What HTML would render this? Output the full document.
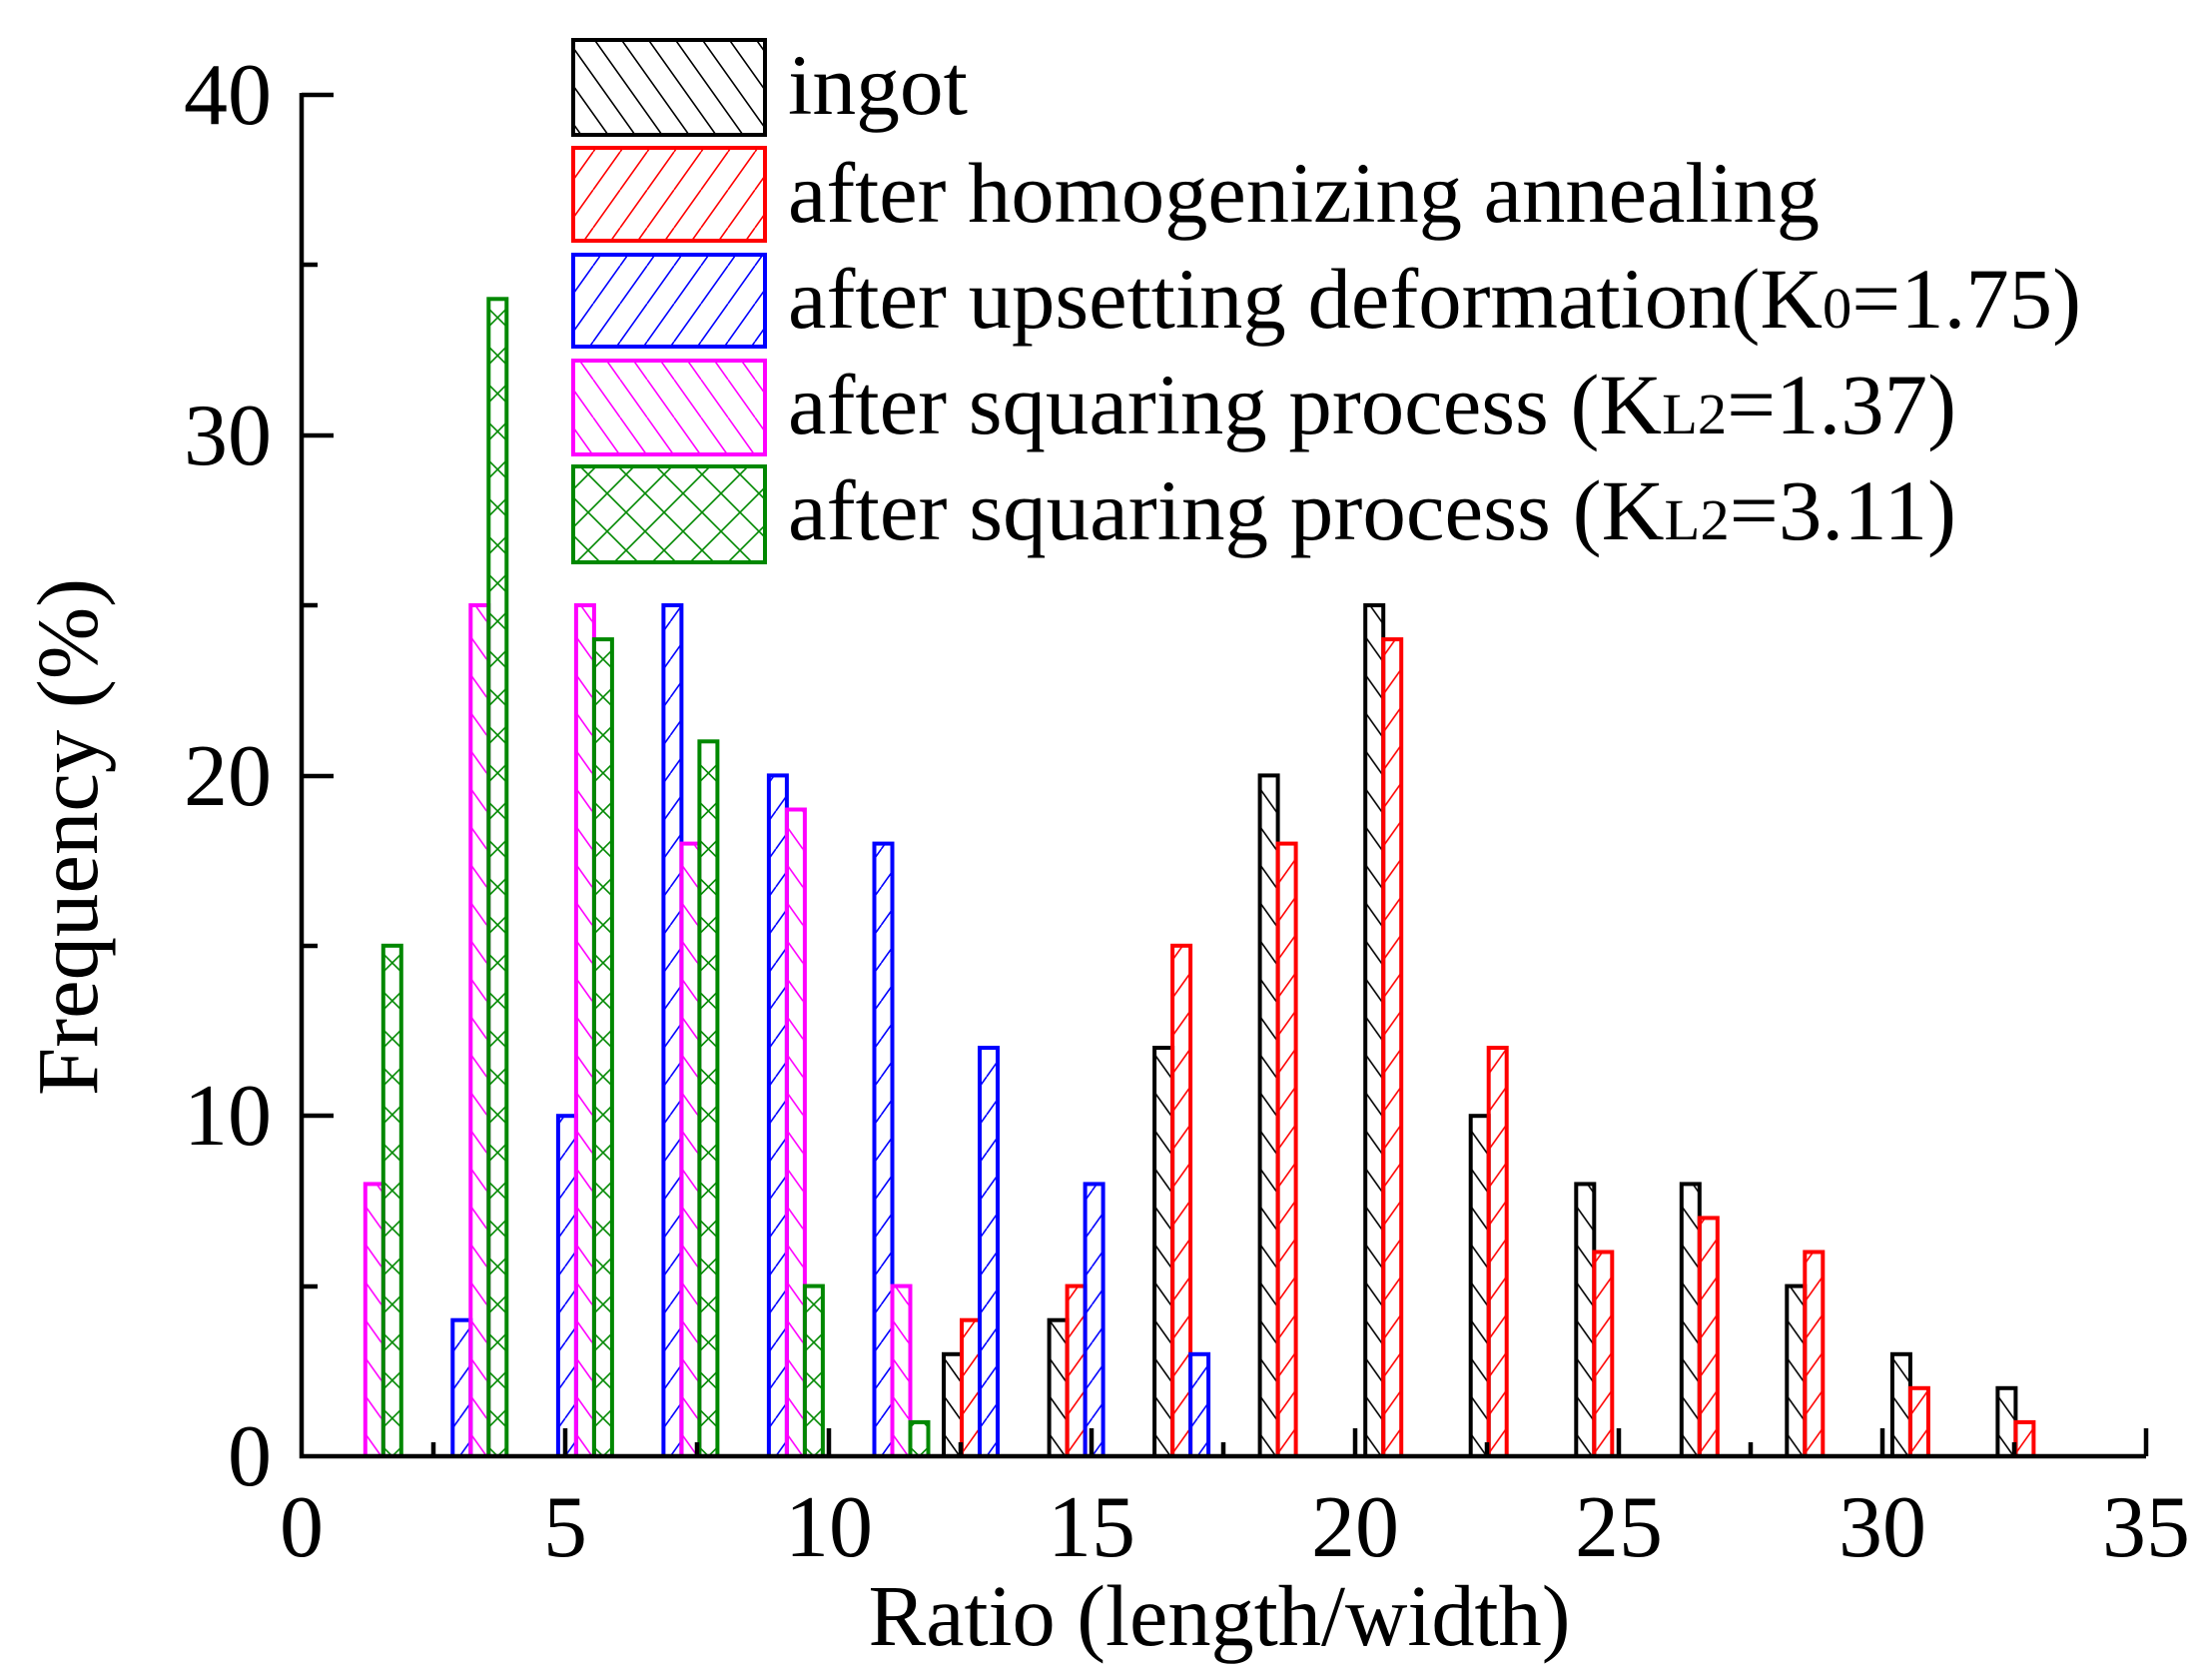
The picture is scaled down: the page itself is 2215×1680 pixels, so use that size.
<!DOCTYPE html>
<html><head><meta charset="utf-8"><style>
html,body{margin:0;padding:0;background:#fff;}
svg{display:block;}
text{font-family:"Liberation Serif",serif;fill:#000;}
</style></head><body>
<svg width="2215" height="1680" viewBox="0 0 2215 1680" xmlns="http://www.w3.org/2000/svg">
<defs>
<pattern id="pk" width="27" height="38" patternUnits="userSpaceOnUse"><path d="M-27,0 L27,76 M0,0 L54,76 M0,-38 L54,38 M-27,-38 L27,38" stroke="#000" stroke-width="1.6"/></pattern>
<pattern id="pr" width="27" height="38" patternUnits="userSpaceOnUse"><path d="M0,38 L27,0 M-27,38 L0,0 M27,38 L54,0" stroke="#f00" stroke-width="1.6"/></pattern>
<pattern id="pb" width="27" height="38" patternUnits="userSpaceOnUse"><path d="M0,38 L27,0 M-27,38 L0,0 M27,38 L54,0" stroke="#00f" stroke-width="1.6"/></pattern>
<pattern id="pm" width="27" height="38" patternUnits="userSpaceOnUse"><path d="M0,0 L27,38 M-27,0 L0,38 M27,0 L54,38" stroke="#f0f" stroke-width="1.6"/></pattern>
<pattern id="pg" width="38" height="38" patternUnits="userSpaceOnUse"><path d="M0,0 L38,38 M0,38 L38,0" stroke="#080" stroke-width="1.6"/></pattern>
</defs>

<g stroke-width="4">
<g transform="translate(354.8,1458)">
<rect x="11" y="-272.6" width="18" height="272.6" fill="url(#pm)" stroke="#f0f"/>
<rect x="29" y="-511.2" width="18" height="511.2" fill="url(#pg)" stroke="#080"/>
</g>
<g transform="translate(460.3,1458)">
<rect x="-7" y="-136.3" width="18" height="136.3" fill="url(#pb)" stroke="#00f"/>
<rect x="11" y="-852" width="18" height="852" fill="url(#pm)" stroke="#f0f"/>
<rect x="29" y="-1158.7" width="18" height="1158.7" fill="url(#pg)" stroke="#080"/>
</g>
<g transform="translate(565.9,1458)">
<rect x="-7" y="-340.8" width="18" height="340.8" fill="url(#pb)" stroke="#00f"/>
<rect x="11" y="-852" width="18" height="852" fill="url(#pm)" stroke="#f0f"/>
<rect x="29" y="-817.9" width="18" height="817.9" fill="url(#pg)" stroke="#080"/>
</g>
<g transform="translate(671.4,1458)">
<rect x="-7" y="-852" width="18" height="852" fill="url(#pb)" stroke="#00f"/>
<rect x="11" y="-613.4" width="18" height="613.4" fill="url(#pm)" stroke="#f0f"/>
<rect x="29" y="-715.7" width="18" height="715.7" fill="url(#pg)" stroke="#080"/>
</g>
<g transform="translate(776.9,1458)">
<rect x="-7" y="-681.6" width="18" height="681.6" fill="url(#pb)" stroke="#00f"/>
<rect x="11" y="-647.5" width="18" height="647.5" fill="url(#pm)" stroke="#f0f"/>
<rect x="29" y="-170.4" width="18" height="170.4" fill="url(#pg)" stroke="#080"/>
</g>
<g transform="translate(882.5,1458)">
<rect x="-7" y="-613.4" width="18" height="613.4" fill="url(#pb)" stroke="#00f"/>
<rect x="11" y="-170.4" width="18" height="170.4" fill="url(#pm)" stroke="#f0f"/>
<rect x="29" y="-34.1" width="18" height="34.1" fill="url(#pg)" stroke="#080"/>
</g>
<g transform="translate(988,1458)">
<rect x="-43" y="-102.2" width="18" height="102.2" fill="url(#pk)" stroke="#000"/>
<rect x="-25" y="-136.3" width="18" height="136.3" fill="url(#pr)" stroke="#f00"/>
<rect x="-7" y="-409" width="18" height="409" fill="url(#pb)" stroke="#00f"/>
</g>
<g transform="translate(1093.6,1458)">
<rect x="-43" y="-136.3" width="18" height="136.3" fill="url(#pk)" stroke="#000"/>
<rect x="-25" y="-170.4" width="18" height="170.4" fill="url(#pr)" stroke="#f00"/>
<rect x="-7" y="-272.6" width="18" height="272.6" fill="url(#pb)" stroke="#00f"/>
</g>
<g transform="translate(1199.1,1458)">
<rect x="-43" y="-409" width="18" height="409" fill="url(#pk)" stroke="#000"/>
<rect x="-25" y="-511.2" width="18" height="511.2" fill="url(#pr)" stroke="#f00"/>
<rect x="-7" y="-102.2" width="18" height="102.2" fill="url(#pb)" stroke="#00f"/>
</g>
<g transform="translate(1304.6,1458)">
<rect x="-43" y="-681.6" width="18" height="681.6" fill="url(#pk)" stroke="#000"/>
<rect x="-25" y="-613.4" width="18" height="613.4" fill="url(#pr)" stroke="#f00"/>
</g>
<g transform="translate(1410.2,1458)">
<rect x="-43" y="-852" width="18" height="852" fill="url(#pk)" stroke="#000"/>
<rect x="-25" y="-817.9" width="18" height="817.9" fill="url(#pr)" stroke="#f00"/>
</g>
<g transform="translate(1515.7,1458)">
<rect x="-43" y="-340.8" width="18" height="340.8" fill="url(#pk)" stroke="#000"/>
<rect x="-25" y="-409" width="18" height="409" fill="url(#pr)" stroke="#f00"/>
</g>
<g transform="translate(1621.3,1458)">
<rect x="-43" y="-272.6" width="18" height="272.6" fill="url(#pk)" stroke="#000"/>
<rect x="-25" y="-204.5" width="18" height="204.5" fill="url(#pr)" stroke="#f00"/>
</g>
<g transform="translate(1726.8,1458)">
<rect x="-43" y="-272.6" width="18" height="272.6" fill="url(#pk)" stroke="#000"/>
<rect x="-25" y="-238.6" width="18" height="238.6" fill="url(#pr)" stroke="#f00"/>
</g>
<g transform="translate(1832.3,1458)">
<rect x="-43" y="-170.4" width="18" height="170.4" fill="url(#pk)" stroke="#000"/>
<rect x="-25" y="-204.5" width="18" height="204.5" fill="url(#pr)" stroke="#f00"/>
</g>
<g transform="translate(1937.9,1458)">
<rect x="-43" y="-102.2" width="18" height="102.2" fill="url(#pk)" stroke="#000"/>
<rect x="-25" y="-68.2" width="18" height="68.2" fill="url(#pr)" stroke="#f00"/>
</g>
<g transform="translate(2043.4,1458)">
<rect x="-43" y="-68.2" width="18" height="68.2" fill="url(#pk)" stroke="#000"/>
<rect x="-25" y="-34.1" width="18" height="34.1" fill="url(#pr)" stroke="#f00"/>
</g>
</g>

<!-- axes -->
<g stroke="#000" stroke-width="4.5" fill="none">
<path d="M302,93 L302,1458 L2149,1458"/>
<path d="M302,95 h32 M302,436 h32 M302,777 h32 M302,1117 h32 M302,265 h16 M302,606 h16 M302,947 h16 M302,1288 h16"/>
<path d="M566,1458 v-28 M830,1458 v-28 M1093,1458 v-28 M1357,1458 v-28 M1621,1458 v-28 M1885,1458 v-28 M2149,1458 v-28"/>
<path d="M434,1458 v-14 M698,1458 v-14 M962,1458 v-14 M1225,1458 v-14 M1489,1458 v-14 M1753,1458 v-14 M2017,1458 v-14"/>
</g>

<g font-size="88" text-anchor="end">
<text x="272" y="124">40</text>
<text x="272" y="465">30</text>
<text x="272" y="806">20</text>
<text x="272" y="1146">10</text>
<text x="272" y="1487">0</text>
</g>
<g font-size="88" text-anchor="middle">
<text x="302" y="1558">0</text>
<text x="566" y="1558">5</text>
<text x="830" y="1558">10</text>
<text x="1093" y="1558">15</text>
<text x="1357" y="1558">20</text>
<text x="1621" y="1558">25</text>
<text x="1885" y="1558">30</text>
<text x="2149" y="1558">35</text>
</g>
<text x="1221" y="1647" font-size="87" text-anchor="middle" textLength="703" lengthAdjust="spacingAndGlyphs">Ratio (length/width)</text>
<text transform="translate(97,838) rotate(-90)" font-size="87" text-anchor="middle" textLength="518" lengthAdjust="spacingAndGlyphs">Frequency (%)</text>

<!-- legend -->
<g stroke-width="4">
<rect x="574" y="40" width="192" height="95" fill="url(#pk)" stroke="#000"/>
<rect x="574" y="148" width="192" height="93" fill="url(#pr)" stroke="#f00"/>
<rect x="574" y="255" width="192" height="92" fill="url(#pb)" stroke="#00f"/>
<rect x="574" y="361" width="192" height="94" fill="url(#pm)" stroke="#f0f"/>
<rect x="574" y="467" width="192" height="96" fill="url(#pg)" stroke="#080"/>
</g>
<g font-size="86">
<text x="789" y="114" textLength="180" lengthAdjust="spacingAndGlyphs">ingot</text>
<text x="789" y="222" textLength="1033" lengthAdjust="spacingAndGlyphs">after homogenizing annealing</text>
<text x="789" y="328" textLength="1295" lengthAdjust="spacingAndGlyphs">after upsetting deformation(K<tspan font-size="58">0</tspan>=1.75)</text>
<text x="789" y="434" textLength="1170" lengthAdjust="spacingAndGlyphs">after squaring process (K<tspan font-size="58">L2</tspan>=1.37)</text>
<text x="789" y="540" textLength="1170" lengthAdjust="spacingAndGlyphs">after squaring process (K<tspan font-size="58">L2</tspan>=3.11)</text>
</g>
</svg>
</body></html>
